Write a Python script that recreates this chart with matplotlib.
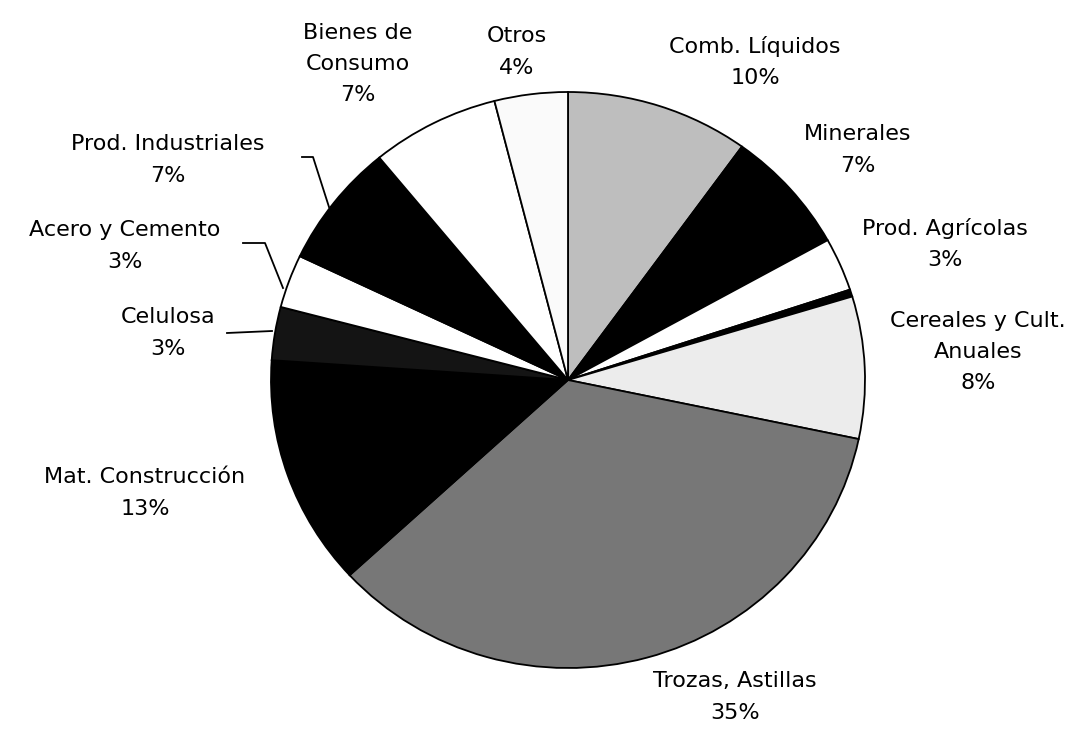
import matplotlib.pyplot as plt

W, H = 1087, 729
CX, CY = 568, 380      # centro de la torta (px)
RX, RY = 297, 288      # radios (px), la torta es algo eliptica

categorias = ["Comb. Líquidos", "Minerales", "Prod. Agrícolas", "",
              "Cereales y Cult.\nAnuales", "Trozas, Astillas",
              "Mat. Construcción", "Celulosa", "Acero y Cemento",
              "Prod. Industriales", "Bienes de\nConsumo", "Otros"]
porcentajes = [10, 7, 3, 0.4, 8, 35, 13, 3, 3, 7, 7, 4]
colores = ["#bebebe", "#000000", "#ffffff", "#000000", "#ececec", "#777777",
           "#000000", "#141414", "#ffffff", "#000000", "#ffffff", "#fafafa"]

# posicion del centro de cada etiqueta (px), sin etiqueta para la franja fina
pos_etiquetas = [(755, 62), (858, 150), (945, 244), None, (978, 352),
                 (735, 697), (145, 493), (168, 333), (125, 246),
                 (168, 160), (358, 64), (517, 52)]

# lineas guia (px)
guias = [
    [(302, 157), (313, 157), (329, 207)],
    [(243, 243), (265, 243), (283, 288)],
    [(227, 333), (272, 331)],
]


def px(x, y):
    return (x - CX) / RX, (CY - y) / RY


def main():
    fig = plt.figure(figsize=(W / 100, H / 100), dpi=100)
    ax = fig.add_axes([0, 0, 1, 1])

    ax.pie(porcentajes, colors=colores, startangle=90, counterclock=False,
           radius=1, center=(0, 0), frame=True,
           wedgeprops=dict(edgecolor="black", linewidth=1.3))
    ax.set_xlim(-CX / RX, (W - CX) / RX)
    ax.set_ylim(-(H - CY) / RY, CY / RY)
    ax.set_aspect("auto")
    ax.axis("off")

    for cat, val, pos in zip(categorias, porcentajes, pos_etiquetas):
        if pos is None:
            continue
        x, y = px(*pos)
        ax.text(x, y, f"{cat}\n{val:.0f}%", ha="center", va="center",
                fontsize=16, family="DejaVu Sans", linespacing=1.7,
                color="black")

    for g in guias:
        xs, ys = zip(*[px(a, b) for a, b in g])
        ax.plot(xs, ys, color="black", linewidth=1.3)

    fig.savefig("out.png", dpi=100)


if __name__ == "__main__":
    main()
